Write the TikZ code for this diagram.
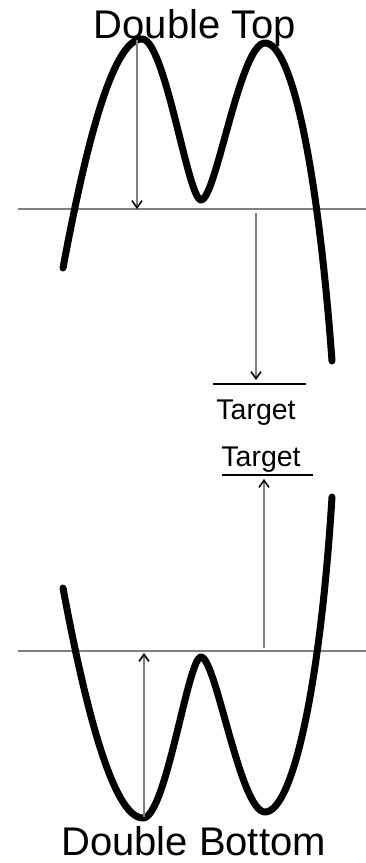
\documentclass[tikz,border=0pt]{standalone}
\usepackage{fontspec}
\setmainfont{Liberation Sans}
\usetikzlibrary{arrows.meta, positioning}
\tikzstyle{price} = [line width=7pt, line cap=round, line join=round]
\tikzstyle{neckline} = [draw=gray, line width=1.3pt]
\tikzstyle{arrow} = [draw=gray, line width=1.1pt, -{Straight Barb[length=7pt, width=10pt, line width=1.6pt, color=black]}]
\tikzstyle{targetline} = [line width=1.1pt]
\tikzstyle{title} = [font=\fontsize{40}{48}\selectfont, inner sep=0, anchor=base]
\tikzstyle{targettext} = [font=\fontsize{28.5}{34}\selectfont, inner sep=0, anchor=base]

\begin{document}
\begin{tikzpicture}[x=1pt, y=-1pt]
        \useasboundingbox (0,0) rectangle (366,863);

        % double top
        \node[title] (toptitle) at (195,38) {Double Top};
        \coordinate (topneckL) at (18,209);
        \coordinate (topneckR) at (366,209);
        \coordinate (toppeak) at (137,40);
        \coordinate (topneckpeak) at (137,209);
        \coordinate (topneckstart) at (256,213);
        \coordinate (toptargetend) at (256,380);
        \coordinate (toptargetL) at (213,384);
        \coordinate (toptargetR) at (306,384);
        \node[targettext] (toptarget) at (256,419) {Target};

        \draw[neckline] (topneckL) -- (topneckR);
        \draw[price] (63,268) .. controls (85,150) and (112,39) .. (142,39)
            .. controls (165,39) and (188,200) .. (201,200)
            .. controls (216,200) and (240,43) .. (265,43)
            .. controls (292,43) and (318,170) .. (332,361);
        \draw[arrow] (toppeak) -- (topneckpeak);
        \draw[arrow] (topneckstart) -- (toptargetend);
        \draw[targetline] (toptargetL) -- (toptargetR);

        % double bottom
        \node[targettext] (bottomtarget) at (261,466) {Target};
        \coordinate (bottargetL) at (222,475);
        \coordinate (bottargetR) at (313,475);
        \coordinate (botneckL) at (18,651);
        \coordinate (botneckR) at (366,651);
        \coordinate (botneckstart) at (264,648);
        \coordinate (bottargetend) at (264,479);
        \coordinate (bottrough) at (144,817);
        \coordinate (botnecktrough) at (144,653);
        \node[title] (bottomtitle) at (193.5,855) {Double Bottom};

        \draw[neckline] (botneckL) -- (botneckR);
        \draw[price] (63,588) .. controls (85,706) and (113,818) .. (143,818)
            .. controls (166,818) and (188,657) .. (201,657)
            .. controls (216,657) and (240,812) .. (265,812)
            .. controls (292,812) and (320,690) .. (332,497);
        \draw[arrow] (bottrough) -- (botnecktrough);
        \draw[arrow] (botneckstart) -- (bottargetend);
        \draw[targetline] (bottargetL) -- (bottargetR);
\end{tikzpicture}
\end{document}
